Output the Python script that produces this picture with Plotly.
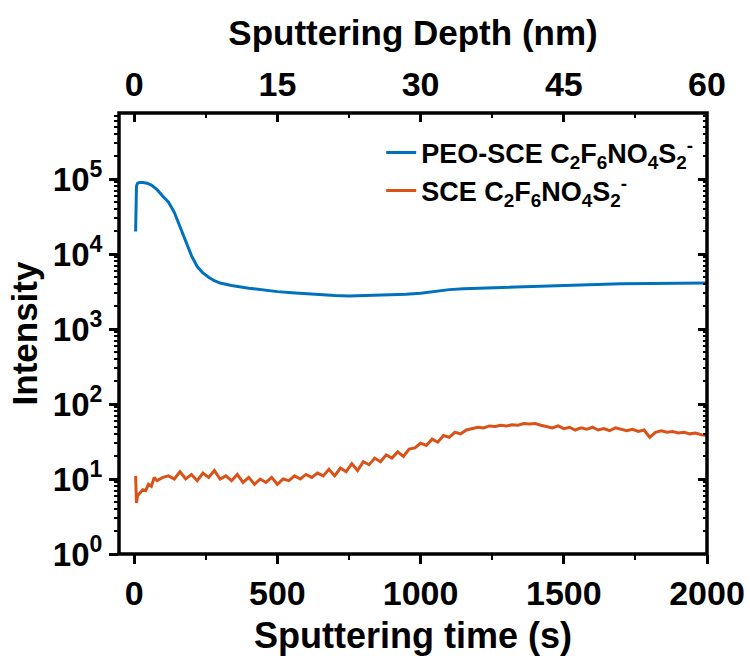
import plotly.graph_objects as go

# ---- data ----
time_peo = [5, 8, 12, 20, 30, 45, 60, 80, 100, 120, 140, 160, 180, 200, 220, 240, 260, 280, 300,
            340, 400, 450, 500, 550, 600, 650, 700, 750, 800, 850, 900, 950, 1000, 1050, 1100,
            1150, 1200, 1300, 1400, 1500, 1600, 1700, 1800, 1900, 2000]
int_peo = [2.0e4, 8.0e4, 8.8e4, 9.0e4, 9.0e4, 8.8e4, 8.3e4, 7.2e4, 5.9e4, 4.9e4, 3.6e4, 2.3e4,
           1.4e4, 9.5e3, 6.8e3, 5.6e3, 4.9e3, 4.4e3, 4.1e3, 3.8e3, 3.5e3, 3.3e3, 3.15e3, 3.05e3,
           2.95e3, 2.85e3, 2.8e3, 2.75e3, 2.78e3, 2.8e3, 2.85e3, 2.9e3, 3.0e3, 3.2e3, 3.35e3,
           3.45e3, 3.5e3, 3.6e3, 3.7e3, 3.8e3, 3.9e3, 4.0e3, 4.05e3, 4.1e3, 4.1e3]

time_sce = [5, 8, 12, 20, 30, 40, 50, 60, 70, 80, 100, 120, 140, 160, 180, 200, 220, 240, 260,
            280, 300, 320, 340, 360, 380, 400, 420, 440, 460, 480, 500, 520, 540, 560, 580, 600,
            620, 640, 660, 680, 700, 720, 740, 760, 780, 800, 820, 840, 860, 880, 900, 920, 940,
            960, 980, 1000, 1020, 1040, 1060, 1080, 1100, 1120, 1140, 1160, 1180, 1200, 1220,
            1240, 1260, 1280, 1300, 1320, 1340, 1360, 1380, 1400, 1420, 1440, 1460, 1480, 1500,
            1520, 1540, 1560, 1580, 1600, 1620, 1640, 1660, 1680, 1700, 1720, 1740, 1760, 1780,
            1800, 1820, 1840, 1860, 1880, 1900, 1920, 1940, 1960, 1980, 2000]
int_sce = [11, 4.8, 6, 6.5, 7.2, 7, 8.5, 8, 10.5, 9.5, 10.5, 11, 10, 12.5, 10, 11.5, 9.5, 12,
           10.5, 13, 10, 11, 9.5, 11.5, 9, 10.5, 8.5, 10, 9, 10.5, 8.5, 10, 9.5, 11, 10, 11.5,
           10.5, 12, 11, 13.5, 11, 14, 12.5, 16, 13, 17, 15.5, 19, 17, 21, 19, 23, 20, 25, 26,
           30, 28, 34, 31, 38, 36, 42, 40, 45, 47, 49, 48, 51, 50, 52, 51, 53, 52, 55, 54, 55,
           52, 50, 48, 51, 47, 49, 45, 48, 46, 49, 45, 47, 44, 48, 46, 44, 46, 43, 45, 36, 42,
           44, 42, 43, 41, 42, 40, 41, 39, 38]

x_ticks = [0, 500, 1000, 1500, 2000]
depth_ticks = [0, 15, 30, 45, 60]
y_tickvals = [1, 10, 100, 1000, 10000, 100000]
y_ticktext = ["10<sup>0</sup>", "10<sup>1</sup>", "10<sup>2</sup>", "10<sup>3</sup>",
              "10<sup>4</sup>", "10<sup>5</sup>"]
names = ["PEO-SCE C<sub>2</sub>F<sub>6</sub>NO<sub>4</sub>S<sub>2</sub><sup>-</sup>",
         "SCE C<sub>2</sub>F<sub>6</sub>NO<sub>4</sub>S<sub>2</sub><sup>-</sup>"]

BLUE = "#0072BD"
ORANGE = "#D95319"
FONT = dict(family="Liberation Sans", weight="bold", color="black")

fig = go.Figure()
fig.add_trace(go.Scatter(x=time_peo, y=int_peo, mode="lines", name=names[0],
                         line=dict(color=BLUE, width=3)))
fig.add_trace(go.Scatter(x=time_sce, y=int_sce, mode="lines", name=names[1],
                         line=dict(color=ORANGE, width=3)))
# invisible helpers so the top (depth) axis and right axis get drawn
fig.add_trace(go.Scatter(x=[d for d in depth_ticks], y=[None] * len(depth_ticks),
                         xaxis="x2", yaxis="y", showlegend=False, hoverinfo="skip",
                         mode="lines", line=dict(width=0)))
fig.add_trace(go.Scatter(x=[None] * len(y_tickvals), y=y_tickvals,
                         xaxis="x", yaxis="y2", showlegend=False, hoverinfo="skip",
                         mode="lines", line=dict(width=0)))

# plot frame
fig.add_shape(type="rect", xref="paper", yref="paper", x0=0, x1=1, y0=0, y1=1,
              line=dict(color="black", width=3.5), fillcolor="rgba(0,0,0,0)", layer="above")

XR = [-53, 2000]
YR = [0, 5.88]
fig.update_layout(
    width=750, height=664,
    margin=dict(l=119, r=43, t=113, b=110),
    paper_bgcolor="white", plot_bgcolor="white",
    font=dict(FONT, size=30),
    showlegend=True,
    legend=dict(x=0.985, xanchor="right", y=0.965, yanchor="top",
                bgcolor="rgba(0,0,0,0)", font=dict(FONT, size=27),
                tracegroupgap=0),
    xaxis=dict(range=XR, tickvals=x_ticks, ticks="outside", ticklen=9, tickwidth=3,
               tickcolor="black", showline=False, showgrid=False, zeroline=False,
               automargin=False,
               minor=dict(dtick=250, tick0=0, ticks="outside", ticklen=5, tickwidth=2,
                          tickcolor="black"),
               title=dict(text="Sputtering time (s)", font=dict(FONT, size=36), standoff=12),
               tickfont=dict(FONT, size=34)),
    xaxis2=dict(range=[XR[0] * 0.03, 60], overlaying="x", side="top", anchor="y",
                tickvals=depth_ticks, ticks="inside", ticklen=9, tickwidth=3,
                tickcolor="black", showline=False, showgrid=False, zeroline=False,
                automargin=False, ticklabelstandoff=9,
                minor=dict(dtick=7.5, tick0=0, ticks="inside", ticklen=5, tickwidth=2,
                           tickcolor="black"),
                title=dict(text="Sputtering Depth (nm)", font=dict(FONT, size=35), standoff=8),
                tickfont=dict(FONT, size=34)),
    yaxis=dict(type="log", range=YR, tickvals=y_tickvals, ticktext=y_ticktext,
               ticks="outside", ticklen=9, tickwidth=3, tickcolor="black",
               showline=False, showgrid=False, zeroline=False, automargin=False,
               minor=dict(dtick="D1", ticks="outside", ticklen=4, tickwidth=2,
                          tickcolor="black"),
               title=dict(text="Intensity", font=dict(FONT, size=35), standoff=4),
               tickfont=dict(FONT, size=33)),
    yaxis2=dict(type="log", range=YR, overlaying="y", side="right", anchor="x",
                tickvals=y_tickvals, showticklabels=False, automargin=False,
                ticks="inside", ticklen=9, tickwidth=3, tickcolor="black",
                showline=False, showgrid=False, zeroline=False,
                minor=dict(dtick="D1", ticks="inside", ticklen=4, tickwidth=2,
                           tickcolor="black")),
)

fig.write_html("out.html")
